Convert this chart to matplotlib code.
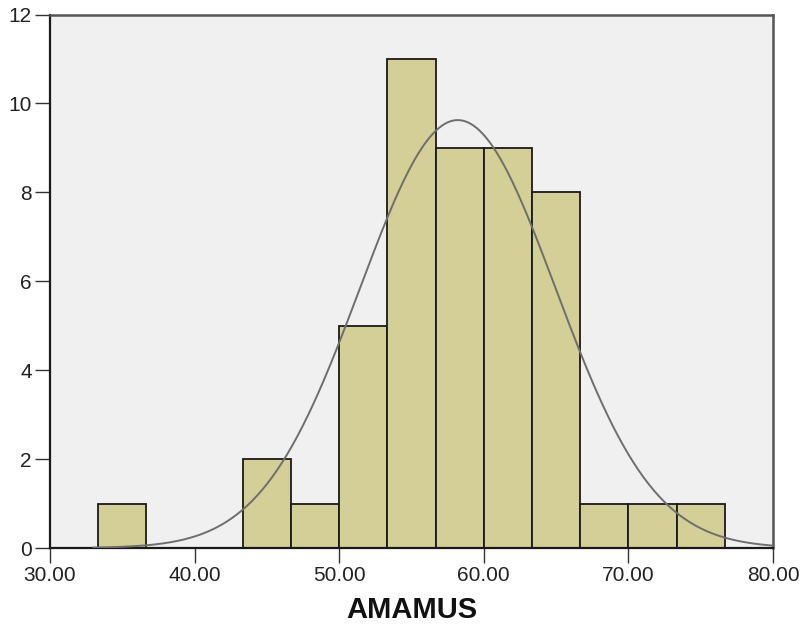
import numpy as np
import matplotlib
matplotlib.use("Agg")
import matplotlib.pyplot as plt

plt.rcParams['font.family'] = ['Liberation Sans', 'DejaVu Sans']

# Histogram of AMAMUS: bin edges start at 33.33 with width 3.33
bin_start = 33.333
bin_width = 3.3333
counts = [1, 0, 0, 2, 1, 5, 11, 9, 9, 8, 1, 1, 1]

# Fitted normal curve parameters
fit_mean = 58.2
fit_sd = 6.77
n_obs = sum(counts)

x_ticks = [30, 40, 50, 60, 70, 80]
x_tick_labels = ["30.00", "40.00", "50.00", "60.00", "70.00", "80.00"]
y_ticks = [0, 2, 4, 6, 8, 10, 12]

fig = plt.figure(figsize=(8.01, 6.25), dpi=100)
ax = fig.add_axes([50 / 801, 77 / 625, 723 / 801, 533.5 / 625])
ax.set_facecolor("#f0f0f0")

lefts = [bin_start + i * bin_width for i in range(len(counts))]
for l, c in zip(lefts, counts):
    if c > 0:
        ax.bar(l, c, width=bin_width, align="edge", color="#d3cf97",
               edgecolor="#1a1a1a", linewidth=1.3, zorder=2)

xs = np.linspace(33.0, 80.0, 400)
ys = n_obs * bin_width / (fit_sd * np.sqrt(2 * np.pi)) * np.exp(-0.5 * ((xs - fit_mean) / fit_sd) ** 2)
ax.plot(xs, ys, color="#6e6e6e", linewidth=1.4, zorder=3)

ax.set_xlim(30, 80)
ax.set_ylim(0, 12)
ax.set_xticks(x_ticks)
ax.set_xticklabels(x_tick_labels)
ax.set_yticks(y_ticks)

ax.tick_params(axis="both", direction="out", length=11, width=1.0,
               color="#333333", labelsize=15, labelcolor="#222222", pad=2)

for side in ["left", "bottom"]:
    ax.spines[side].set_color("#1a1a1a")
    ax.spines[side].set_linewidth(1.6)
for side in ["top", "right"]:
    ax.spines[side].set_color("#555555")
    ax.spines[side].set_linewidth(1.8)

ax.set_xlabel("AMAMUS", fontsize=21, fontweight="bold", color="#111111", labelpad=8)

fig.savefig("out.png", dpi=100)
